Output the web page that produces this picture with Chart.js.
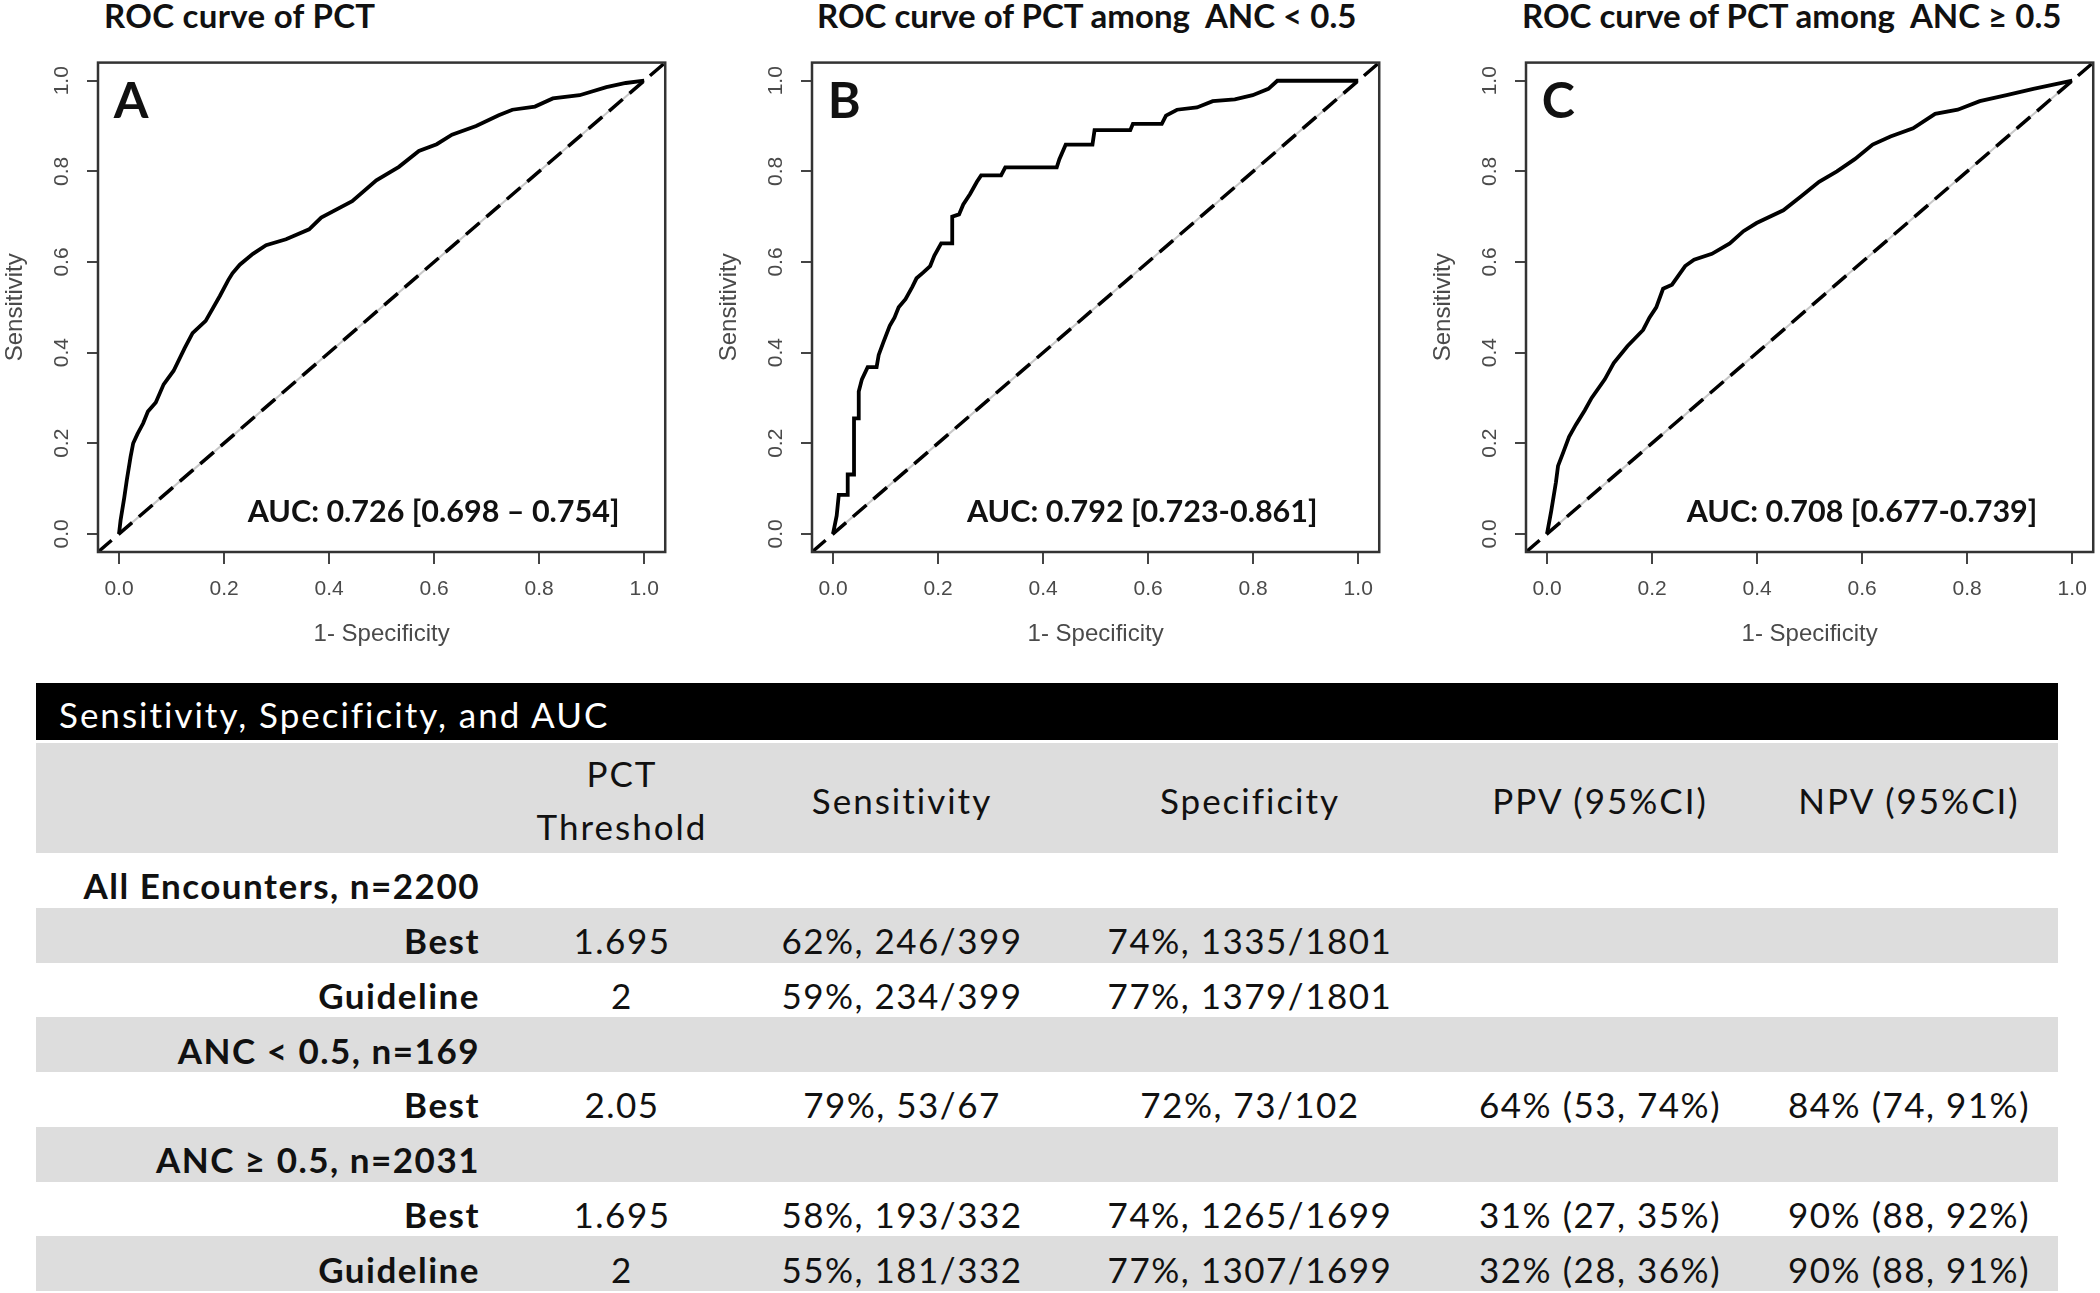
<!DOCTYPE html>
<html lang="en">
<head>
<meta charset="UTF-8" />
<title>ROC curves of PCT</title>
<script src="https://cdn.jsdelivr.net/npm/chart.js"></script>
<style>
  body { margin: 0; width: 2100px; height: 1293px; position: relative; overflow: hidden; background: #fff; font-family: Lato, sans-serif; }
  .ptitle { position: absolute; top: 0; font: bold 33px/30px Lato, sans-serif; color: #111; white-space: pre; }
  .panel { position: absolute; top: 40px; }
  .letter { position: absolute; font: bold 50px/1 Lato, sans-serif; color: #111; }
  .auc { position: absolute; font: bold 30.5px/1 Lato, sans-serif; color: #111; white-space: pre; transform: translateY(-50%); }
  #tbl { position: absolute; left: 36px; top: 683px; width: 2022px; color: #111; font-size: 35px; letter-spacing: 1.5px; }
  .bar { height: 57px; background: #000; color: #fff; display: flex; align-items: center; padding-left: 23px; padding-top: 4px; box-sizing: border-box; margin-bottom: 3px; letter-spacing: 2px; }
  .row { display: grid; grid-template-columns: 464px 244px 316px 380px 320px 298px; height: 54.75px; }
  .row.hdr { height: 110px; }
  .row.shade { background: #dddddd; }
  .cell { display: flex; align-items: center; justify-content: center; text-align: center; padding-top: 10px; box-sizing: border-box; white-space: pre; }
  .hdr .cell { padding-top: 4px; line-height: 53px; letter-spacing: 2px; }
  .cell.lab { justify-content: flex-end; padding-right: 20px; font-weight: bold; }
</style>
</head>
<body>
<div id="tbl"></div>
<script>
// ROC curves (1 - specificity, sensitivity)
const fprA = [0, 0.003, 0.01, 0.015, 0.022, 0.027, 0.035, 0.046, 0.055, 0.07, 0.085, 0.104, 0.125, 0.14, 0.165, 0.192, 0.208, 0.216, 0.23, 0.255, 0.28, 0.318, 0.362, 0.385, 0.444, 0.49, 0.533, 0.571, 0.605, 0.634, 0.68, 0.723, 0.749, 0.792, 0.826, 0.877, 0.928, 0.965, 1];
const tprA = [0, 0.03, 0.08, 0.12, 0.17, 0.2, 0.22, 0.244, 0.27, 0.29, 0.33, 0.36, 0.41, 0.443, 0.47, 0.525, 0.56, 0.575, 0.594, 0.618, 0.637, 0.65, 0.672, 0.698, 0.734, 0.78, 0.81, 0.845, 0.86, 0.881, 0.9, 0.924, 0.936, 0.943, 0.961, 0.968, 0.986, 0.995, 1];

const fprB = [0, 0.007, 0.011, 0.028, 0.028, 0.04, 0.04, 0.049, 0.049, 0.055, 0.066, 0.083, 0.087, 0.096, 0.108, 0.117, 0.125, 0.138, 0.151, 0.159, 0.172, 0.185, 0.193, 0.206, 0.227, 0.227, 0.24, 0.248, 0.261, 0.274, 0.282, 0.32, 0.328, 0.426, 0.431, 0.443, 0.494, 0.498, 0.566, 0.571, 0.626, 0.634, 0.655, 0.693, 0.723, 0.765, 0.799, 0.829, 0.846, 1];
const tprB = [0, 0.04, 0.086, 0.086, 0.131, 0.131, 0.255, 0.255, 0.314, 0.341, 0.368, 0.368, 0.395, 0.423, 0.459, 0.477, 0.5, 0.518, 0.545, 0.564, 0.577, 0.591, 0.614, 0.641, 0.641, 0.7, 0.705, 0.727, 0.75, 0.777, 0.791, 0.791, 0.809, 0.809, 0.827, 0.859, 0.859, 0.891, 0.891, 0.905, 0.905, 0.923, 0.936, 0.941, 0.955, 0.959, 0.968, 0.982, 1, 1];

const fprC = [0, 0.008, 0.017, 0.021, 0.03, 0.042, 0.055, 0.072, 0.085, 0.11, 0.127, 0.153, 0.183, 0.195, 0.208, 0.221, 0.238, 0.263, 0.28, 0.314, 0.348, 0.374, 0.399, 0.45, 0.484, 0.518, 0.552, 0.586, 0.62, 0.654, 0.697, 0.739, 0.782, 0.824, 0.875, 0.926, 1];
const tprC = [0, 0.05, 0.114, 0.15, 0.177, 0.214, 0.241, 0.273, 0.3, 0.341, 0.377, 0.414, 0.45, 0.477, 0.5, 0.541, 0.55, 0.591, 0.605, 0.618, 0.641, 0.668, 0.686, 0.714, 0.745, 0.777, 0.8, 0.827, 0.859, 0.877, 0.895, 0.927, 0.936, 0.955, 0.968, 0.982, 1];

const axisTicks = [0, 0.2, 0.4, 0.6, 0.8, 1.0];
const panelTitles = ['ROC curve of PCT', 'ROC curve of PCT among  ANC < 0.5', 'ROC curve of PCT among  ANC \u2265 0.5'];
const panelLetters = ['A', 'B', 'C'];
const aucLabels = ['AUC: 0.726 [0.698 \u2013 0.754]', 'AUC: 0.792 [0.723-0.861]', 'AUC: 0.708 [0.677-0.739]'];

// table
const colHeaders = ['', 'PCT\nThreshold', 'Sensitivity', 'Specificity', 'PPV (95%CI)', 'NPV (95%CI)'];
const rowLabels = ['All Encounters, n=2200', 'Best', 'Guideline', 'ANC < 0.5, n=169', 'Best', 'ANC \u2265 0.5, n=2031', 'Best', 'Guideline'];
const thresholds = ['', '1.695', '2', '', '2.05', '', '1.695', '2'];
const sensitivity = ['', '62%, 246/399', '59%, 234/399', '', '79%, 53/67', '', '58%, 193/332', '55%, 181/332'];
const specificity = ['', '74%, 1335/1801', '77%, 1379/1801', '', '72%, 73/102', '', '74%, 1265/1699', '77%, 1307/1699'];
const ppv = ['', '', '', '', '64% (53, 74%)', '', '31% (27, 35%)', '32% (28, 36%)'];
const npv = ['', '', '', '', '84% (74, 91%)', '', '90% (88, 92%)', '90% (88, 91%)'];

const curves = [[fprA, tprA], [fprB, tprB], [fprC, tprC]];
const panelLeft = [0, 714, 1428];
const titleLeft = [104, 817, 1522];

Chart.defaults.font.family = '"Liberation Sans", Arial, sans-serif';
Chart.defaults.color = '#4a4a4a';

const boxPlugin = {
  id: 'box',
  afterDatasetsDraw(chart) {
    const a = chart.chartArea, ctx = chart.ctx;
    ctx.save();
    ctx.strokeStyle = '#333';
    ctx.lineWidth = 2.5;
    ctx.strokeRect(a.left, a.top, a.right - a.left, a.bottom - a.top);
    ctx.restore();
  }
};

function axisOpts(isX) {
  return {
    type: 'linear', min: -0.04, max: 1.04,
    afterBuildTicks: s => { s.ticks = axisTicks.map(v => ({ value: v })); },
    afterFit: s => { if (isX) s.height = 108; else s.width = 98; },
    grid: { drawOnChartArea: false, drawTicks: true, tickLength: isX ? 12 : 11, color: '#444', lineWidth: 2 },
    border: { display: true, color: '#333', width: 2 },
    ticks: isX
      ? { font: { size: 21 }, padding: 13, maxRotation: 0, autoSkip: false, callback: v => v.toFixed(1) }
      : { font: { size: 21 }, padding: 10, minRotation: 90, maxRotation: 90, crossAlign: 'center', autoSkip: false, callback: v => v.toFixed(1) },
    title: isX
      ? { display: true, text: '1- Specificity', font: { size: 24 }, padding: { top: 0, bottom: 11 } }
      : { display: true, text: 'Sensitivity', font: { size: 24 }, padding: { top: 1, bottom: 0 } }
  };
}

curves.forEach(([fpr, tpr], i) => {
  const t = document.createElement('div');
  t.className = 'ptitle';
  t.style.left = titleLeft[i] + 'px';
  t.style.letterSpacing = i === 0 ? '0.3px' : '0px';
  t.textContent = panelTitles[i];
  document.body.appendChild(t);

  const wrap = document.createElement('div');
  wrap.className = 'panel';
  wrap.style.left = panelLeft[i] + 'px';
  const cv = document.createElement('canvas');
  cv.width = 672; cv.height = 620;
  wrap.appendChild(cv);
  document.body.appendChild(wrap);

  const chart = new Chart(cv.getContext('2d'), {
    type: 'scatter',
    data: {
      datasets: [
        { data: fpr.map((x, k) => ({ x, y: tpr[k] })), showLine: true, borderColor: '#000', borderWidth: 3.8, pointRadius: 0, tension: 0 },
        { data: [{ x: -0.04, y: -0.04 }, { x: 1.04, y: 1.04 }], showLine: true, borderColor: '#000', borderWidth: 3.5, borderDash: [18, 9], pointRadius: 0 },
        { data: [{ x: 0, y: 0 }, { x: 1, y: 1 }], showLine: true, borderColor: '#c8c8c8', borderWidth: 2, pointRadius: 0 }
      ]
    },
    options: {
      responsive: false, animation: false,
      layout: { padding: { top: 11, right: 5, bottom: 0, left: 0 } },
      plugins: { legend: { display: false }, tooltip: { enabled: false } },
      scales: { x: axisOpts(true), y: axisOpts(false) }
    },
    plugins: [boxPlugin]
  });

  // panel letter and AUC text, placed in data coordinates
  const sx = chart.scales.x, sy = chart.scales.y;
  const l = document.createElement('div');
  l.className = 'letter';
  l.textContent = panelLetters[i];
  l.style.left = (panelLeft[i] + sx.getPixelForValue(-0.01)) + 'px';
  l.style.top = (40 + sy.getPixelForValue(0.996) - 9) + 'px';
  document.body.appendChild(l);

  const au = document.createElement('div');
  au.className = 'auc';
  au.textContent = aucLabels[i];
  au.style.left = (panelLeft[i] + sx.getPixelForValue([0.245, 0.255, 0.266][i])) + 'px';
  au.style.top = (40 + sy.getPixelForValue(0.052)) + 'px';
  document.body.appendChild(au);
});

// summary table
const tbl = document.getElementById('tbl');
let html = '<div class="bar">Sensitivity, Specificity, and AUC</div>';
html += '<div class="row hdr shade">' + colHeaders.map(h => `<div class="cell">${h}</div>`).join('') + '</div>';
rowLabels.forEach((lab, r) => {
  const shade = r % 2 === 1 ? ' shade' : '';
  html += `<div class="row${shade}"><div class="cell lab">${lab.replace('<', '&lt;')}</div>` +
    [thresholds[r], sensitivity[r], specificity[r], ppv[r], npv[r]].map(v => `<div class="cell">${v}</div>`).join('') + '</div>';
});
tbl.innerHTML = html;
</script>
</body>
</html>
